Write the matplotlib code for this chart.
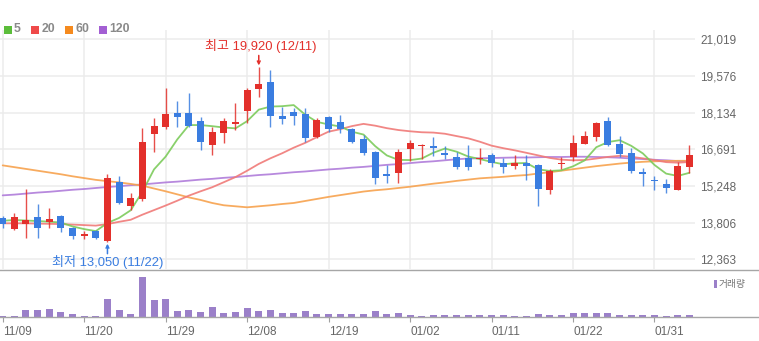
import matplotlib
matplotlib.use("Agg")
import matplotlib.pyplot as plt
import numpy as np
from matplotlib.lines import Line2D
from matplotlib.patches import Rectangle

plt.rcParams['font.family'] = ['Liberation Sans', 'Noto Sans CJK KR', 'DejaVu Sans']

# ---- daily data -------------------------------------------------------
dates = ["11/09", "11/10", "11/13", "11/14", "11/15", "11/16", "11/17", "11/20", "11/21", "11/22",
         "11/23", "11/24", "11/27", "11/28", "11/29", "11/30", "12/01", "12/04", "12/05", "12/06",
         "12/07", "12/08", "12/11", "12/12", "12/13", "12/14", "12/15", "12/18", "12/19", "12/20",
         "12/21", "12/22", "12/26", "12/27", "12/28", "01/02", "01/03", "01/04", "01/05", "01/08",
         "01/09", "01/10", "01/11", "01/12", "01/15", "01/16", "01/17", "01/18", "01/19", "01/22",
         "01/23", "01/24", "01/25", "01/26", "01/29", "01/30", "01/31", "02/01", "02/02", "02/05"]

opens = [13980, 13550, 13770, 14040, 13840, 14080, 13610, 13290, 13490, 13100,
         15420, 14470, 14740, 17290, 17580, 18130, 18130, 17810, 16860, 17350,
         17700, 18200, 19060, 19350, 18010, 18160, 18070, 17190, 17980, 17770,
         17490, 17100, 16600, 15730, 15770, 16690, 16820, 16820, 16560, 16400,
         16350, 16300, 16470, 16170, 16050, 16170, 16080, 15090, 16100, 16380,
         16900, 17160, 17810, 16900, 16560, 15810, 15470, 15340, 15090, 15980]
highs = [14080, 14180, 15120, 14540, 14370, 14110, 13650, 13480, 13520, 15720,
         15640, 14960, 17520, 17940, 19090, 18590, 18900, 17980, 17580, 17910,
         18510, 19090, 19920, 19810, 18370, 18330, 18310, 17940, 18000, 18040,
         17520, 17260, 16620, 16080, 16690, 17060, 16890, 17160, 16820, 16600,
         16870, 16760, 16560, 16340, 16470, 16470, 16110, 15910, 16400, 17260,
         17410, 17780, 17980, 17220, 16730, 15970, 15640, 15520, 16210, 16860]
lows = [13580, 13520, 13190, 13190, 13580, 13450, 13150, 13150, 13150, 13050,
        14530, 14300, 14660, 16600, 17480, 17580, 17580, 16670, 16470, 16950,
        17450, 17720, 18740, 17560, 17690, 17650, 16990, 17130, 17390, 17320,
        16930, 16470, 15330, 15380, 15350, 16230, 16300, 16440, 16300, 15910,
        15870, 16100, 16010, 15770, 15910, 15490, 14460, 14920, 15910, 16230,
        16900, 17030, 16820, 16400, 15770, 15250, 15090, 14990, 15090, 15770]
closes = [13750, 14040, 13900, 13580, 13950, 13580, 13280, 13370, 13190, 15550,
          14570, 14790, 16990, 17610, 18070, 17950, 17610, 16990, 17390, 17810,
          17780, 19030, 19250, 18000, 17880, 18000, 17130, 17850, 17480, 17480,
          16990, 16560, 15580, 15650, 16600, 16950, 16860, 16730, 16470, 15980,
          16000, 16360, 16170, 16010, 16170, 16050, 15130, 15840, 16140, 16950,
          17220, 17720, 16860, 16500, 15850, 15720, 15450, 15160, 16040, 16470]
volumes = [20000, 20000, 128000, 128000, 148000, 88000, 48000, 20000, 20000, 348000,
           128000, 48000, 788000, 328000, 348000, 108000, 128000, 88000, 194000, 68000,
           88000, 168000, 108000, 128000, 68000, 68000, 108000, 48000, 48000, 48000,
           48000, 48000, 108000, 48000, 68000, 34000, 16000, 34000, 34000, 34000,
           34000, 34000, 34000, 34000, 16000, 16000, 60000, 34000, 34000, 80000,
           80000, 80000, 80000, 34000, 34000, 34000, 34000, 16000, 34000, 34000]

# moving averages whose window starts before the first visible day
ma5_head = [13880, 13910, 13890, 13870]
ma20_head = [13780, 13780, 13780, 13770, 13760, 13750, 13730, 13710, 13690, 13750,
             13840, 13920, 14120, 14300, 14480, 14670, 14870, 15040, 15200]
ma60 = [16060, 15990, 15920, 15850, 15780, 15710, 15630, 15560, 15490, 15440,
        15390, 15330, 15260, 15150, 15040, 14920, 14800, 14700, 14580, 14490,
        14450, 14410, 14450, 14490, 14540, 14580, 14660, 14740, 14820, 14890,
        14960, 15030, 15080, 15120, 15170, 15220, 15280, 15340, 15390, 15450,
        15500, 15550, 15580, 15610, 15650, 15680, 15740, 15790, 15850, 15910,
        15970, 16030, 16080, 16130, 16170, 16200, 16220, 16230, 16240, 16240]
ma120 = [14880, 14910, 14950, 14990, 15020, 15060, 15100, 15130, 15170, 15210,
         15240, 15280, 15310, 15350, 15390, 15420, 15460, 15500, 15530, 15570,
         15600, 15640, 15680, 15710, 15750, 15790, 15820, 15860, 15900, 15930,
         15970, 16000, 16040, 16080, 16110, 16150, 16190, 16220, 16260, 16300,
         16330, 16340, 16350, 16360, 16370, 16370, 16380, 16390, 16390, 16400,
         16400, 16390, 16380, 16360, 16330, 16310, 16280, 16260, 16230, 16210]

price_ticks = [12363, 13806, 15248, 16691, 18134, 19576, 21019]
ma_labels = ["5", "20", "60", "120"]

high_idx, low_idx = 22, 9

# ---- derived series ---------------------------------------------------
n = len(closes)
x = np.arange(n)
c = np.array(closes, float)
ma5 = np.array(ma5_head + [c[i - 4:i + 1].mean() for i in range(4, n)])
ma20 = np.array(ma20_head + [c[i - 19:i + 1].mean() for i in range(19, n)])

UP, DOWN = "#e3302b", "#3a7de0"
MA_COLORS = ["#7ccb5b", "#f07a78", "#f7a24e", "#b07cda"]
LEGEND_COLORS = ["#5bbd3a", "#ef4a4a", "#f58a1e", "#a35fd3"]
GRID = "#ececec"
TXT = "#666666"

W, H = 759, 341
fig = plt.figure(figsize=(W / 100, H / 100), dpi=100)


def fy(py):
    return 1 - py / H


x_lo, x_hi = -0.232, 59.48
ax = fig.add_axes([0, fy(269), 695 / W, (269 - 30) / H])
axv = fig.add_axes([0, fy(316.7), 695 / W, (316.7 - 270) / H])

# ---- price pane -------------------------------------------------------
ax.set_xlim(x_lo, x_hi)
ax.set_ylim(11983, 21386)
for s in ax.spines.values():
    s.set_visible(False)
ax.set_yticks(price_ticks)
ax.set_yticklabels([f"{v:,}" for v in price_ticks])
ax.yaxis.tick_right()
ax.tick_params(axis="y", length=0, pad=3.8, labelsize=8.5, labelcolor=TXT)
ax.set_xticks(x[::7])
ax.tick_params(axis="x", length=0, labelbottom=False)
ax.grid(True, color=GRID, lw=1.1, zorder=0)
ax.set_axisbelow(True)

for vals, col in zip([ma120, ma60, ma20, ma5], MA_COLORS[::-1]):
    ax.plot(x, vals, color=col, lw=1.3, alpha=0.9, zorder=2, solid_capstyle="round")

o = np.array(opens, float)
up = c >= o
colors = np.where(up, UP, DOWN)
ax.vlines(x, lows, highs, colors=colors, lw=1.0, alpha=0.85, zorder=3)
body_lo = np.minimum(o, c)
body_h = np.maximum(np.abs(c - o), 45)
ax.bar(x, body_h, bottom=body_lo, width=0.6, color=colors, linewidth=0, zorder=4)

# highest / lowest markers
ax.annotate("", xy=(high_idx, highs[high_idx]), xytext=(0, 8.5), textcoords="offset points",
            arrowprops=dict(arrowstyle="->", color=UP, lw=1.1, shrinkA=0, shrinkB=1.3,
                            mutation_scale=5))
ax.annotate(f"최고 {highs[high_idx]:,} ({dates[high_idx]})", xy=(high_idx, highs[high_idx]),
            xytext=(1.5, 15.5), textcoords="offset points", ha="center", va="center",
            color=UP, fontsize=9.4, annotation_clip=False)
ax.annotate("", xy=(low_idx, lows[low_idx]), xytext=(0, -8.5), textcoords="offset points",
            arrowprops=dict(arrowstyle="->", color=DOWN, lw=1.1, shrinkA=0, shrinkB=1.3,
                            mutation_scale=5))
ax.annotate(f"최저 {lows[low_idx]:,} ({dates[low_idx]})", xy=(low_idx, lows[low_idx]),
            xytext=(0.5, -14.3), textcoords="offset points", ha="center", va="center",
            color=DOWN, fontsize=9.4, annotation_clip=False)

# ---- volume pane ------------------------------------------------------
axv.set_xlim(x_lo, x_hi)
axv.set_ylim(0, max(volumes) * 46.7 / 39.4)
for s in axv.spines.values():
    s.set_visible(False)
axv.bar(x, volumes, width=0.6, color="#9b80c9", linewidth=0, zorder=3)
axv.set_yticks([])
axv.set_xticks(x[::7])
axv.set_xticklabels(dates[::7], ha="left")
axv.tick_params(axis="x", length=3.5, width=0.8, color="#a0a0a0", pad=3,
                labelsize=8.5, labelcolor=TXT)

# pane borders across the full width
fig.add_artist(Line2D([0, 1], [fy(269.5), fy(269.5)], color="#a6a6a6", lw=1.0))
fig.add_artist(Line2D([0, 1], [fy(317), fy(317)], color="#a6a6a6", lw=1.0))

# MA legend
lx = [3.5, 31, 65, 99]
for px, col, lab in zip(lx, LEGEND_COLORS, ma_labels):
    fig.add_artist(Rectangle((px / W, fy(33.5)), 8 / W, 8 / H, color=col, lw=0,
                             transform=fig.transFigure))
    fig.text((px + 10.5) / W, fy(29.5), lab, color="#8a8a8a", fontsize=8.8,
             fontweight="bold", va="center", ha="left")

# volume label
fig.add_artist(Rectangle((714 / W, fy(288)), 3 / W, 8 / H, color="#9b80c9", lw=0,
                         transform=fig.transFigure))
fig.text(719 / W, fy(284), "거래량", color="#777777", fontsize=7, va="center", ha="left",
         family=["Noto Sans CJK KR"])

fig.savefig("out.png", dpi=100)
